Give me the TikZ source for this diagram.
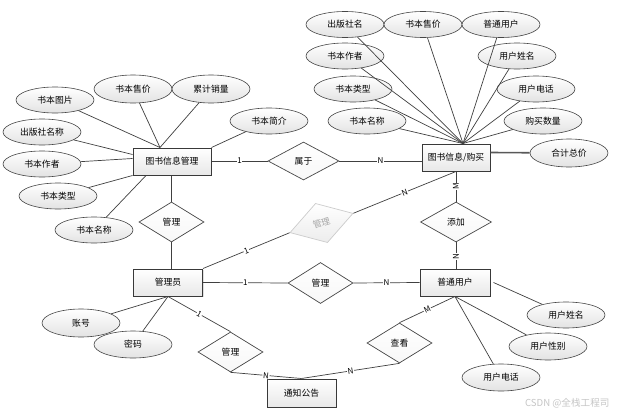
\documentclass[tikz,border=0pt]{standalone}
\usepackage{fontspec}
\setmainfont{Noto Sans CJK SC}
\usetikzlibrary{shapes.geometric,shadows,calc}
\begin{document}
\begin{tikzpicture}[x=1pt,y=-1pt,
  every node/.style={font=\fontsize{8.8}{10}\selectfont},
  entity/.style={draw=gray!45!black,line width=1pt,top color=white,bottom color=gray!18,
    minimum width=69pt,minimum height=27pt,inner sep=0pt,
    drop shadow={shadow xshift=1pt,shadow yshift=-1pt,opacity=0.25}},
  attr/.style={ellipse,draw=gray!55!black,line width=0.6pt,top color=white,bottom color=gray!22,
    minimum width=78pt,minimum height=26pt,inner sep=0pt},
  rel/.style={diamond,draw=gray!55!black,line width=0.7pt,top color=white,bottom color=gray!6,
    minimum width=65pt,minimum height=40pt,inner sep=0pt,aspect=1.6},
  grayrel/.style={diamond,draw=gray!40,line width=0.7pt,top color=white,bottom color=gray!15,
    minimum width=66pt,minimum height=41pt,inner sep=0pt,aspect=1.6,text=gray!70},
  conn/.style={draw=black!75,line width=0.7pt},
  card/.style={fill=white,inner sep=0.6pt,font=\fontsize{8}{9}\selectfont}
]
\useasboundingbox (0,0) rectangle (619,415);
\fill[white] (0,0) rectangle (619,415);

% entities
\node[entity,minimum width=78pt] (gl) at (172,161.5) {图书信息管理};
\node[entity,minimum width=68pt] (gb) at (456,157.5) {图书信息/购买};
\node[entity] (gy) at (168,282.5) {管理员};
\node[entity,minimum width=70pt] (pu) at (455,282.5) {普通用户};
\node[entity,minimum height=28pt] (tz) at (301.5,393) {通知公告};

% relationships
\node[rel,minimum width=71pt,minimum height=38pt] (sy) at (303.5,161) {属于};
\node[rel] (dm1) at (171.5,222) {管理};
\node[grayrel,rotate=17] (dg) at (321.5,223) {管理};
\node[rel,minimum width=71pt] (tj) at (456,222) {添加};
\node[rel,minimum height=41pt] (dm2) at (320.5,283) {管理};
\node[rel] (dm3) at (230.5,352) {管理};
\node[rel] (ck) at (399.5,343) {查看};

% left attributes
\node[attr] (etp) at (55,100) {书本图片};
\node[attr,minimum height=28pt] (esj) at (133,89) {书本售价};
\node[attr,minimum height=28pt] (elj) at (211,89) {累计销量};
\node[attr] (ejj) at (269,121) {书本简介};
\node[attr] (ecb) at (42,132) {出版社名称};
\node[attr] (ezz) at (42,164) {书本作者};
\node[attr] (elx) at (58,196) {书本类型};
\node[attr] (emc) at (94,230) {书本名称};

% right attributes
\node[attr] (rcb) at (345,24.5) {出版社名};
\node[attr] (rsj) at (423,24.5) {书本售价};
\node[attr] (rpt) at (501,24.5) {普通用户};
\node[attr] (rzz) at (345,56) {书本作者};
\node[attr] (rxm) at (517,56) {用户姓名};
\node[attr] (rlx) at (353,89) {书本类型};
\node[attr] (rdh) at (536,89) {用户电话};
\node[attr] (rmc) at (367,121) {书本名称};
\node[attr] (rsl) at (543,121) {购买数量};
\node[attr,minimum height=28pt] (rhj) at (569,153) {合计总价};

% bottom attributes
\node[attr] (uxm) at (566,315) {用户姓名};
\node[attr,minimum height=27pt] (uxb) at (548,346.5) {用户性别};
\node[attr,minimum height=27pt] (udh) at (501,377.5) {用户电话};
\node[attr,minimum height=28pt] (zh) at (81,323) {账号};
\node[attr,minimum height=27pt] (mm) at (133,344.5) {密码};

% attribute connectors (left group)
\coordinate (glt) at ([xshift=-12pt]gl.north);
\draw[conn] (etp) -- (glt);
\draw[conn] (esj) -- (glt);
\draw[conn] (elj) -- (glt);
\draw[conn] (ejj) -- (gl.north east);
\draw[conn] (ecb) -- ([yshift=7pt]gl.west);
\draw[conn] (ezz) -- ([yshift=3pt]gl.west);
\draw[conn] (elx) -- (gl.south west);
\draw[conn] (emc) -- ([xshift=-26pt]gl.south);

% attribute connectors (right group)
\coordinate (gbt) at ([xshift=7pt]gb.north);
\foreach \e in {rcb,rsj,rpt,rzz,rxm,rlx,rdh,rmc,rsl} {\draw[conn] (\e) -- (gbt);}
\draw[conn,line width=1.6pt,draw=black!65] ([yshift=5pt]gb.east) -- (rhj);

% bottom attribute connectors
\draw[conn] ([xshift=3pt]pu.east) -- (uxm);
\draw[conn] (pu.south) -- (uxb);
\draw[conn] (pu.south) -- (udh);
\draw[conn] (gy.south) -- (zh);
\draw[conn] (gy.south) -- (mm);

% relationship connectors
\draw[conn] (gl.east |- sy.west) -- node[card]{1} (sy.west);
\draw[conn] (sy.east) -- node[card]{N} (sy.east -| gb.west);
\draw[conn] (gl.south -| dm1.north) -- (dm1.north);
\draw[conn] (dm1.south) -- (dm1.south |- gy.north);
\draw[conn] (gy.north east) -- node[card,sloped]{1} (dg.west);
\draw[conn] (dg.east) -- node[card,sloped]{N} (gb.south);
\draw[conn] (gb.south -| tj.north) -- node[card,rotate=90]{M} (tj.north);
\draw[conn] (tj.south) -- node[card,rotate=90,pos=0.55]{N} (tj.south |- pu.north);
\draw[conn] (gy.east) -- node[card]{1} (dm2.west);
\draw[conn] (dm2.east) -- node[card]{N} (pu.west);
\draw[conn] (gy.south) -- node[card,sloped]{1} (dm3.north);
\draw[conn] (dm3.south) -- node[card,sloped]{N} (tz.north);
\draw[conn] (pu.south) -- node[card,sloped]{M} (ck.north);
\draw[conn] (ck.south) -- node[card,sloped]{N} (tz.north);

% watermark
\node[text=gray!45,font=\fontsize{9.6}{11}\selectfont,anchor=east] (wm) at (613,403) {CSDN @全栈工程司};
\end{tikzpicture}
\end{document}
